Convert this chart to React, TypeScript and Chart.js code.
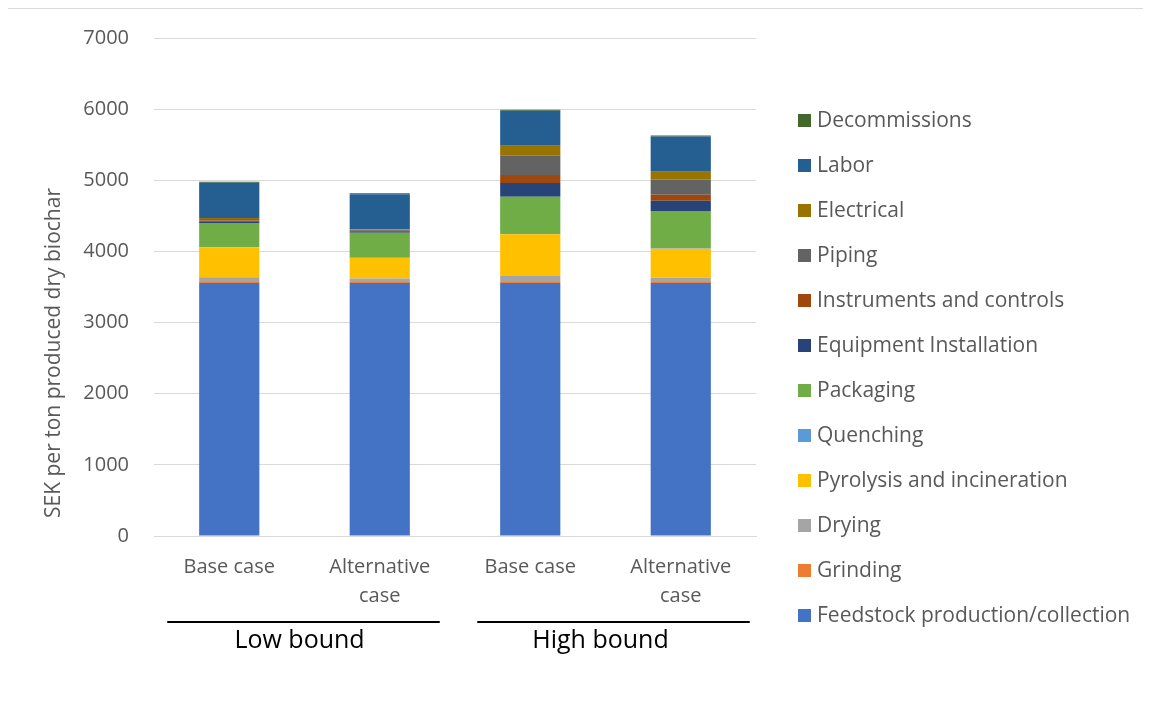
import React, { useEffect, useRef } from "react";
import { Chart, registerables } from "chart.js";

Chart.register(...registerables);

const categories: (string | string[])[] = ["Base case", ["Alternative", "case"], "Base case", ["Alternative", "case"]];
const groups = ["Low bound", "High bound"];
const yTicks = [0, 1000, 2000, 3000, 4000, 5000, 6000, 7000];
const yTitle = "SEK per ton produced dry biochar";

const feedstock = [3556, 3556, 3556, 3556];
const grinding = [15, 15, 15, 15];
const drying = [66, 47, 84, 60];
const pyrolysis = [422, 291, 586, 408];
const quenching = [4, 4, 4, 4];
const packaging = [337, 351, 524, 524];
const equipment = [25, 20, 193, 146];
const instruments = [10, 7, 112, 84];
const piping = [20, 12, 271, 215];
const electrical = [15, 8, 141, 108];
const labor = [496, 492, 492, 496];
const decommissions = [15, 15, 15, 15];

const seriesNames = [
  "Feedstock production/collection",
  "Grinding",
  "Drying",
  "Pyrolysis and incineration",
  "Quenching",
  "Packaging",
  "Equipment Installation",
  "Instruments and controls",
  "Piping",
  "Electrical",
  "Labor",
  "Decommissions",
];
const seriesValues = [feedstock, grinding, drying, pyrolysis, quenching, packaging, equipment, instruments, piping, electrical, labor, decommissions];
const seriesColors = ["#4472C4", "#ED7D31", "#A5A5A5", "#FFC000", "#5B9BD5", "#70AD47", "#264478", "#9E480E", "#636363", "#997300", "#255E91", "#43682B"];

const FONT = "'Open Sans', sans-serif";
const GREY = "#595959";

export default function App() {
  const ref = useRef<HTMLCanvasElement | null>(null);
  useEffect(() => {
    if (!ref.current) return;
    const overlay = {
      id: "overlay",
      afterDraw(chart: any) {
        const ctx = chart.ctx;
        const xs = chart.scales.x;
        ctx.save();
        // y axis title
        ctx.save();
        ctx.translate(45, 344);
        ctx.rotate(-Math.PI / 2);
        ctx.font = `21px ${FONT}`;
        ctx.fillStyle = GREY;
        ctx.textAlign = "center";
        ctx.textBaseline = "middle";
        ctx.fillText(yTitle, 0, 0);
        ctx.restore();
        // legend
        ctx.font = `21px ${FONT}`;
        ctx.textBaseline = "middle";
        ctx.textAlign = "left";
        const n = chart.data.datasets.length;
        for (let i = 0; i < n; i++) {
          const ds = chart.data.datasets[n - 1 - i];
          const y = 111 + 45 * i;
          ctx.fillStyle = ds.backgroundColor;
          ctx.fillRect(789, y - 6, 13, 13);
          ctx.fillStyle = GREY;
          ctx.fillText(ds.label, 808, y + 1);
        }
        // group lines and labels
        const c = [0, 1, 2, 3].map((i) => xs.getPixelForValue(i));
        const spans = [
          [c[0] - 62, c[1] + 60],
          [c[2] - 53, c[3] + 69],
        ];
        ctx.strokeStyle = "#000";
        ctx.lineWidth = 2;
        ctx.fillStyle = "#000";
        ctx.font = `25px ${FONT}`;
        ctx.textAlign = "center";
        spans.forEach((s, g) => {
          ctx.beginPath();
          ctx.moveTo(s[0], 613);
          ctx.lineTo(s[1], 613);
          ctx.stroke();
          const mid = (c[2 * g] + c[2 * g + 1]) / 2 - 5;
          ctx.fillText(groups[g], mid, 632);
        });
        ctx.restore();
      },
    };
    const chart = new Chart(ref.current, {
      type: "bar",
      data: {
        labels: categories,
        datasets: seriesNames.map((name, i) => ({
          label: name,
          data: seriesValues[i],
          backgroundColor: seriesColors[i],
          borderWidth: 0,
          categoryPercentage: 1,
          barPercentage: 0.4,
        })),
      },
      options: {
        animation: false,
        responsive: true,
        maintainAspectRatio: false,
        layout: { padding: { top: 29, right: 396, left: 0, bottom: 0 } },
        plugins: { legend: { display: false }, tooltip: { enabled: false } },
        scales: {
          x: {
            stacked: true,
            grid: { display: false, drawTicks: false },
            border: { display: true, color: "#d9d9d9", width: 1 },
            ticks: { color: GREY, font: { family: FONT, size: 20, lineHeight: 1.45 }, padding: 17, maxRotation: 0 },
            afterFit: (s: any) => {
              s.height = 186;
            },
          },
          y: {
            stacked: true,
            min: 0,
            max: 7000,
            afterBuildTicks: (s: any) => {
              s.ticks = yTicks.map((v) => ({ value: v }));
            },
            grid: { color: "#d9d9d9", drawTicks: false },
            border: { display: false },
            ticks: {
              color: GREY,
              font: { family: FONT, size: 20 },
              padding: 25,
              callback: (v: any) => String(v),
            },
            afterFit: (s: any) => {
              s.width = 145;
              s.paddingTop = 12;
              s.paddingBottom = 12;
            },
          },
        },
      },
      plugins: [overlay],
    });
    return () => chart.destroy();
  }, []);
  return (
    <div style={{ marginLeft: -1, borderTop: "1px solid #d9d9d9", borderLeft: "1px solid #d9d9d9", height: 713 }}>
      <div style={{ position: "relative", width: 1143, height: 713, marginLeft: 1 }}>
        <canvas ref={ref} />
      </div>
    </div>
  );
}
